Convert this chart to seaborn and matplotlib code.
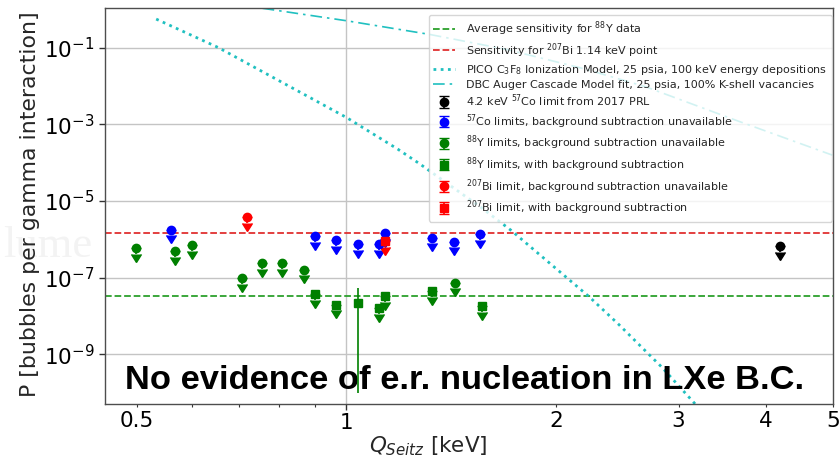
import numpy as np
import pandas as pd
import matplotlib
matplotlib.use("Agg")
import matplotlib.pyplot as plt
from matplotlib.ticker import FixedLocator, FixedFormatter, NullLocator
import seaborn as sns

# ---------------- data ----------------
# 57Co limits, background subtraction unavailable
co57_x = [0.559, 0.900, 0.967, 1.038, 1.115, 1.136, 1.327, 1.427, 1.557]
co57_y = [1.81e-6, 1.21e-6, 9.9e-7, 7.4e-7, 7.4e-7, 1.5e-6, 1.12e-6, 8.8e-7, 1.39e-6]

# 88Y limits, background subtraction unavailable
y88c_x = [0.499, 0.568, 0.600, 0.708, 0.757, 0.809, 0.868, 1.433]
y88c_y = [6.0e-7, 5.0e-7, 7.1e-7, 9.7e-8, 2.4e-7, 2.36e-7, 1.64e-7, 7.5e-8]

# 88Y limits, with background subtraction
y88s_x = [0.900, 0.967, 1.115, 1.136, 1.327, 1.567]
y88s_y = [3.8e-8, 2.0e-8, 1.63e-8, 3.3e-8, 4.5e-8, 1.8e-8]

# 88Y measured point with error bar
y88m_x = [1.040]
y88m_y = [2.25e-8]
y88m_lo = [1.0e-10]
y88m_hi = [5.5e-8]

# 207Bi
bic_x = [0.719]
bic_y = [3.9e-6]
bis_x = [1.136]
bis_y = [9.3e-7]

# 4.2 keV 57Co limit from 2017 PRL
prl_x = [4.2]
prl_y = [6.6e-7]

# sensitivity lines
avg_y88 = 3.3e-8
bi_sens = 1.5e-6

# PICO C3F8 ionization model
pico_x = [0.533, 0.654, 1.0, 1.185, 1.273, 1.567, 1.723, 2.232, 2.465, 2.84, 3.2]
pico_y = [0.56, 0.102, 1.52e-3, 2.27e-4, 9.5e-5, 6.5e-6, 1.74e-6, 3.2e-8, 5.9e-9, 4.6e-10, 4.2e-11]

# DBC Auger cascade model fit
dbc_x = [0.758, 1.0, 1.315, 1.7, 2.2, 2.69, 3.62, 4.99]
dbc_y = [1.07, 0.507, 0.224, 0.090, 0.028, 9.6e-3, 1.3e-3, 1.58e-4]

x_minor_ticks = [0.5, 0.6, 0.7, 0.8, 0.9, 2, 3, 4, 5]
x_minor_labels = ["0.5", "", "", "", "", "2", "3", "4", "5"]
y_ticks = [1e-1, 1e-3, 1e-5, 1e-7, 1e-9]

# ---------------- style ----------------
sns.set_theme(style="whitegrid", rc={
    "axes.edgecolor": "0.3",
    "axes.linewidth": 1.0,
    "grid.color": "#c4c4c4",
    "grid.linewidth": 1.0,
    "xtick.bottom": True,
    "ytick.left": True,
    "xtick.color": "0.2",
    "ytick.color": "0.2",
})
plt.rcParams["font.family"] = ["DejaVu Sans"]
plt.rcParams["mathtext.fontset"] = "dejavusans"

fig = plt.figure(figsize=(8.4, 4.61), dpi=100)
ax = fig.add_axes([105 / 840, 1 - 404.3 / 461, 728 / 840, 396 / 461])
ax.set_xscale("log")
ax.set_yscale("log")

# faint watermark artefact from the source image
fig.text(0.004, 1 - 257 / 461, "lume", color="#f3f3f3", fontsize=32,
         family="Liberation Serif", zorder=-5)

# horizontal sensitivity lines
l1 = ax.axhline(avg_y88, color="#2ca02c", ls="--", lw=1.3,
                label="Average sensitivity for $^{88}$Y data")
l2 = ax.axhline(bi_sens, color="#e03030", ls="--", lw=1.3,
                label="Sensitivity for $^{207}$Bi 1.14 keV point")

pico = pd.DataFrame({"x": pico_x, "y": pico_y})
dbc = pd.DataFrame({"x": dbc_x, "y": dbc_y})
sns.lineplot(data=pico, x="x", y="y", ax=ax, color="#20c0c0", lw=2.0,
             linestyle=(0, (1, 1.6)),
             label="PICO C$_3$F$_8$ Ionization Model, 25 psia, 100 keV energy depositions")
sns.lineplot(data=dbc, x="x", y="y", ax=ax, color="#20c0c0", lw=1.2,
             linestyle=(0, (7, 3, 1.5, 3)),
             label="DBC Auger Cascade Model fit, 25 psia, 100% K-shell vacancies")
line_handles = ax.get_lines()[-2:]


def limits(x, y, color, marker, label):
    y = np.asarray(y, dtype=float)
    return ax.errorbar(x, y, yerr=0.3 * y, uplims=True, fmt=marker, color=color,
                       ms=6, capsize=3.7, elinewidth=1.2, label=label, zorder=3)


e1 = limits(prl_x, prl_y, "black", "o", "4.2 keV $^{57}$Co limit from 2017 PRL")
e2 = limits(co57_x, co57_y, "blue", "o", "$^{57}$Co limits, background subtraction unavailable")
e3 = limits(y88c_x, y88c_y, "green", "o", "$^{88}$Y limits, background subtraction unavailable")
e4 = limits(y88s_x, y88s_y, "green", "s", "$^{88}$Y limits, with background subtraction")
e5 = limits(bic_x, bic_y, "red", "o", "$^{207}$Bi limit, background subtraction unavailable")
e6 = limits(bis_x, bis_y, "red", "s", "$^{207}$Bi limit, with background subtraction")

ym = np.asarray(y88m_y)
ax.errorbar(y88m_x, ym, yerr=[ym - np.asarray(y88m_lo), np.asarray(y88m_hi) - ym],
            fmt="s", color="green", ms=6, elinewidth=1.2, capsize=0, zorder=3)

# axes
ax.set_xlim(0.45, 5)
ax.set_ylim(5e-11, 1.07)
ax.xaxis.set_major_locator(FixedLocator([1]))
ax.xaxis.set_major_formatter(FixedFormatter(["1"]))
ax.xaxis.set_minor_locator(FixedLocator(x_minor_ticks))
ax.xaxis.set_minor_formatter(FixedFormatter(x_minor_labels))
ax.yaxis.set_major_locator(FixedLocator(y_ticks))
ax.yaxis.set_minor_locator(NullLocator())
ax.tick_params(axis="both", which="both", labelsize=15.5, labelcolor="black")
ax.tick_params(axis="both", which="major", length=4, width=1)
ax.tick_params(axis="x", which="minor", length=2.5, width=0.8)
ax.tick_params(axis="x", which="both", pad=2)
ax.grid(True, which="major")
ax.grid(False, which="minor")

ax.set_xlabel("$Q_{Seitz}$ [keV]", fontsize=15.5)
ax.set_ylabel("P [bubbles per gamma interaction]", fontsize=15.8)
ax.xaxis.set_label_coords(0.444, -0.075)
ax.yaxis.set_label_coords(-0.089, 0.505)

ax.text(0.0275, 0.038, "No evidence of e.r. nucleation in LXe B.C.",
        transform=ax.transAxes, fontsize=24.8, fontweight="bold",
        family="Liberation Sans", color="black", va="baseline", ha="left", zorder=2)

handles = [l1, l2] + line_handles + [e1, e2, e3, e4, e5, e6]
labels = [h.get_label() for h in handles]
ax.legend(handles, labels, loc="upper right", bbox_to_anchor=(0.9986, 0.983),
          borderaxespad=0, fontsize=8.0, labelspacing=0.27, handletextpad=1.0,
          borderpad=0.4, handlelength=2.0, framealpha=0.8, edgecolor="0.8")

fig.savefig("out.png", dpi=100)
